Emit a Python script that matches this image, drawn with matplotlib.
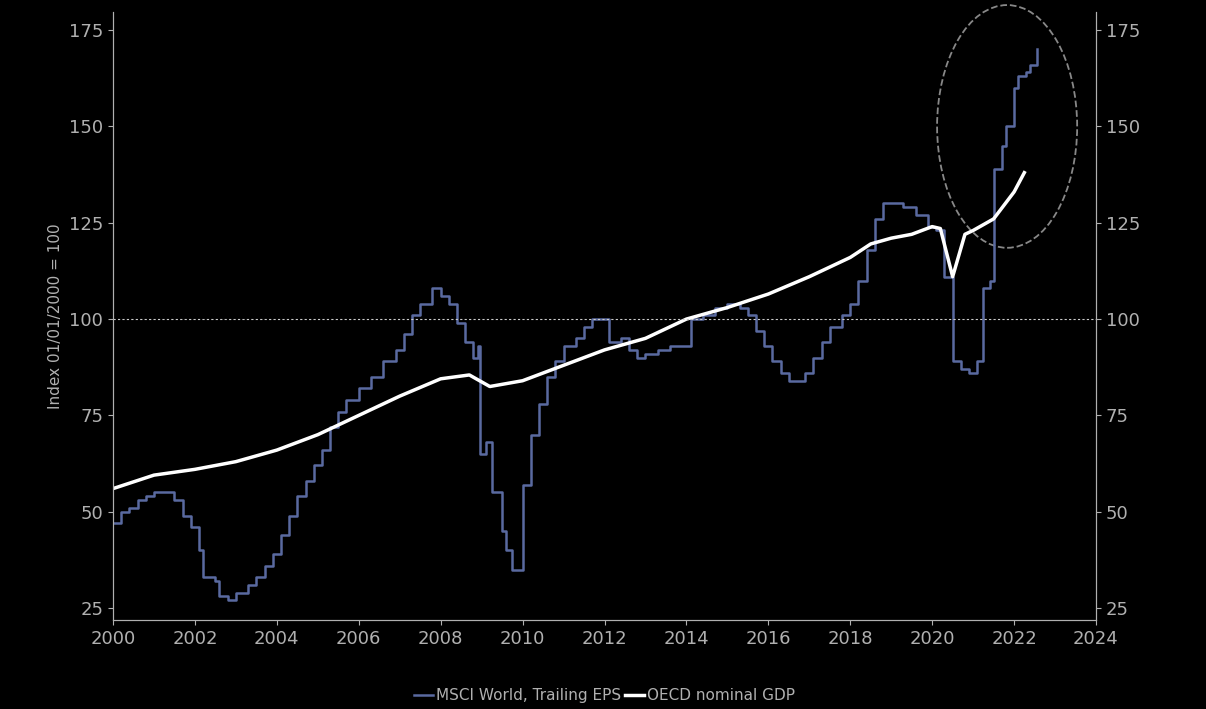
import matplotlib.pyplot as plt
from matplotlib.patches import Ellipse

eps_t = [2000.0, 2000.2, 2000.4, 2000.6, 2000.8, 2001.0, 2001.3, 2001.5, 2001.7, 2001.9, 2002.1, 2002.2,
         2002.5, 2002.6, 2002.8, 2003.0, 2003.3, 2003.5, 2003.7, 2003.9, 2004.1, 2004.3, 2004.5, 2004.7,
         2004.9, 2005.1, 2005.3, 2005.5, 2005.7, 2006.0, 2006.3, 2006.6, 2006.9, 2007.1, 2007.3, 2007.5,
         2007.8, 2008.0, 2008.2, 2008.4, 2008.6, 2008.8, 2008.9, 2008.95, 2009.1, 2009.25, 2009.5, 2009.6,
         2009.75, 2009.9, 2010.0, 2010.2, 2010.4, 2010.6, 2010.8, 2011.0, 2011.3, 2011.5, 2011.7, 2012.0,
         2012.1, 2012.4, 2012.6, 2012.8, 2013.0, 2013.3, 2013.6, 2014.0, 2014.1, 2014.4, 2014.7, 2015.0,
         2015.3, 2015.5, 2015.7, 2015.9, 2016.1, 2016.3, 2016.5, 2016.7, 2016.9, 2017.1, 2017.3, 2017.5,
         2017.8, 2018.0, 2018.2, 2018.4, 2018.6, 2018.8, 2019.0, 2019.3, 2019.6, 2019.9, 2020.1, 2020.3,
         2020.5, 2020.7, 2020.9, 2021.1, 2021.25, 2021.4, 2021.5, 2021.7, 2021.8, 2022.0, 2022.1, 2022.3,
         2022.4, 2022.55]
eps_v = [47, 50, 51, 53, 54, 55, 55, 53, 49, 46, 40, 33,
         32, 28, 27, 29, 31, 33, 36, 39, 44, 49, 54, 58,
         62, 66, 72, 76, 79, 82, 85, 89, 92, 96, 101, 104,
         108, 106, 104, 99, 94, 90, 93, 65, 68, 55, 45, 40,
         35, 35, 57, 70, 78, 85, 89, 93, 95, 98, 100, 100,
         94, 95, 92, 90, 91, 92, 93, 93, 100, 101, 103, 104,
         103, 101, 97, 93, 89, 86, 84, 84, 86, 90, 94, 98,
         101, 104, 110, 118, 126, 130, 130, 129, 127, 124, 123, 111,
         89, 87, 86, 89, 108, 110, 139, 145, 150, 160, 163, 164,
         166, 170]

gdp_t = [2000, 2001, 2002, 2003, 2004, 2005, 2006, 2007, 2008, 2008.7, 2009.2, 2010, 2011, 2012,
         2013, 2014, 2015, 2016, 2017, 2018, 2018.5, 2019, 2019.5, 2020, 2020.2, 2020.5, 2020.8,
         2021, 2021.5, 2022, 2022.25]
gdp_v = [56, 59.5, 61, 63, 66, 70, 75, 80, 84.5, 85.5, 82.5, 84, 88, 92,
         95, 100, 103, 106.5, 111, 116, 119.5, 121, 122, 124, 123.5, 111, 122,
         123, 126, 133, 138]

grey = '#b0b0b0'
fig = plt.figure(figsize=(12.06, 7.09), dpi=100, facecolor='black')
ax = fig.add_axes([113/1206, 1-620/709, 983/1206, 608/709], facecolor='black')
ax.step(eps_t, eps_v, where='post', color='#5a6aa0', lw=1.8, label='MSCI World, Trailing EPS')
ax.plot(gdp_t, gdp_v, color='white', lw=2.5, label='OECD nominal GDP')
ax.axhline(100, color='#cccccc', lw=0.8, ls=(0, (2, 2)))
ax.add_patch(Ellipse((2021.83, 150), 3.42, 63, fill=False, ec='#888888', ls='--', lw=1.3,
                     clip_on=False))
ax.set_xlim(2000, 2024)
ax.set_ylim(21.9, 179.7)
ax.set_xticks(range(2000, 2025, 2))
ax.set_yticks([25, 50, 75, 100, 125, 150, 175])
ax.set_ylabel('Index 01/01/2000 = 100', color=grey, fontsize=11)
ax2 = ax.twinx()
ax2.set_ylim(ax.get_ylim())
ax2.set_yticks([25, 50, 75, 100, 125, 150, 175])
for a in (ax, ax2):
    for s in a.spines.values():
        s.set_color(grey)
    a.spines['top'].set_visible(False)
    a.tick_params(colors=grey, labelsize=13)
ax.legend(loc='upper center', bbox_to_anchor=(0.5, -0.09), ncol=2, frameon=False,
          labelcolor=grey, fontsize=11, handlelength=1.2, columnspacing=0.3, handletextpad=0.2)
fig.savefig('out.png', facecolor='black')
